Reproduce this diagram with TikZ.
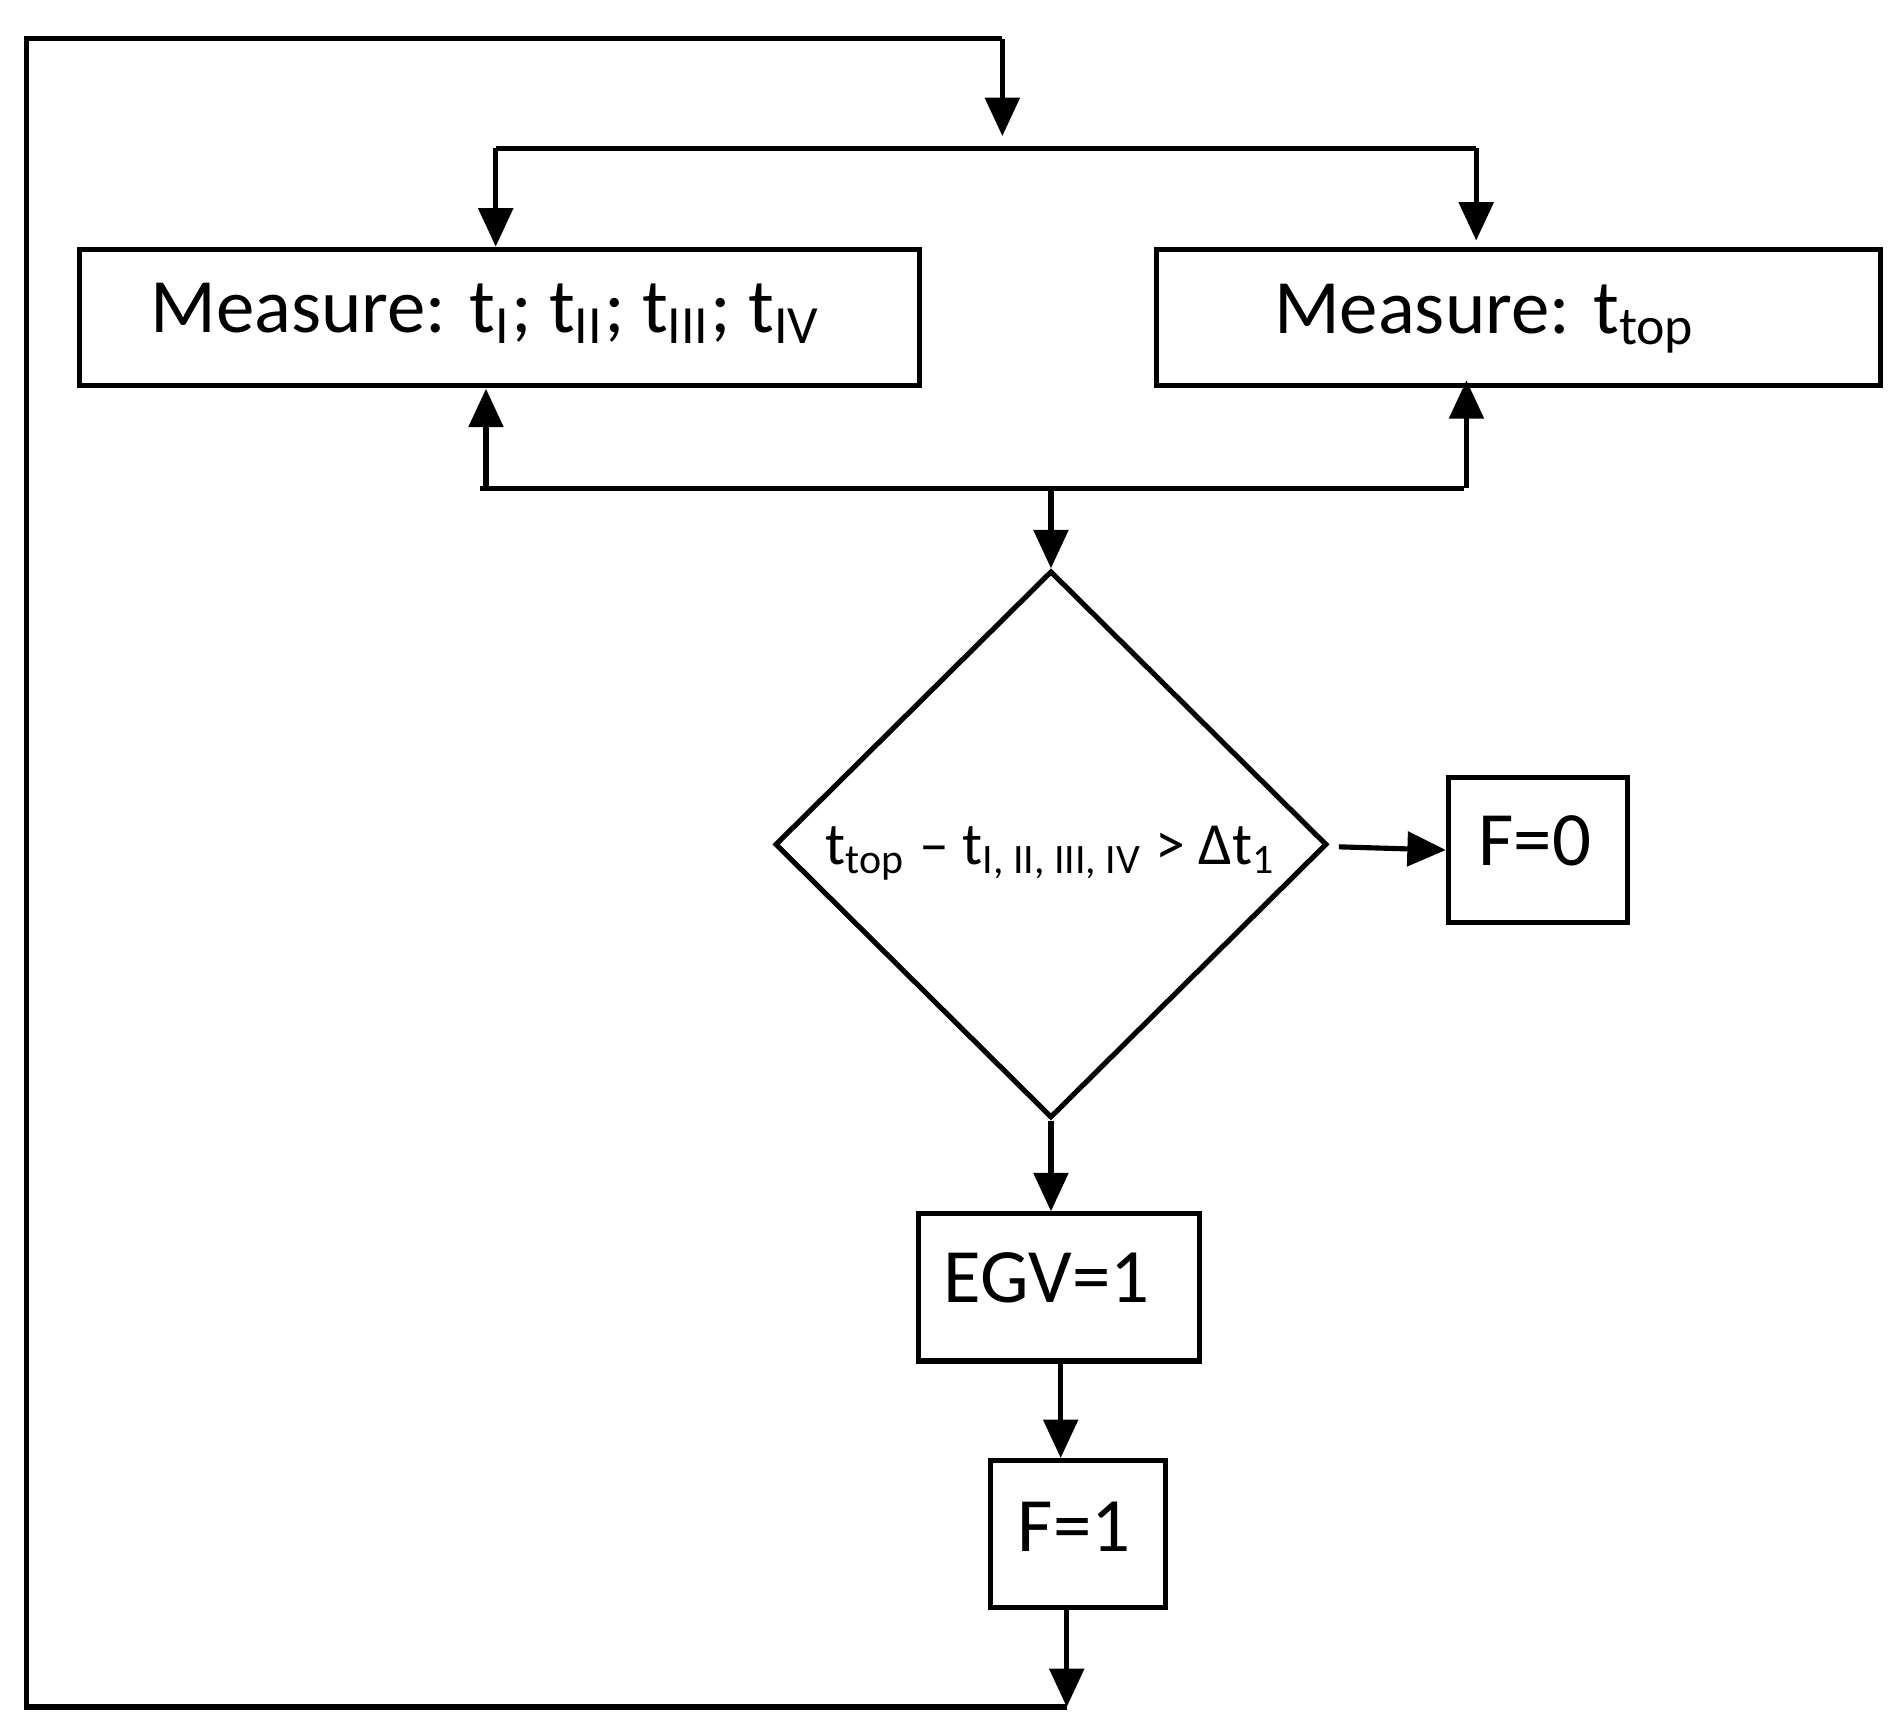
\documentclass[tikz,border=0pt]{standalone}
\usepackage{fontspec}
\setmainfont{Carlito}
\usetikzlibrary{shapes.geometric,arrows.meta,calc}
\begin{document}
\begin{tikzpicture}[x=0.01cm,y=-0.01cm,line width=1.2pt,
  box/.style={draw,rectangle,inner sep=0pt},
  arr/.style={-{Triangle[length=9pt,width=8pt]}},
  big/.style={font=\fontsize{18}{22}\selectfont},
  mid/.style={font=\fontsize{14}{17}\selectfont}]
\useasboundingbox (0,0) rectangle (1563,1427);
\node[box,anchor=north west,minimum width=6.91cm,minimum height=1.12cm] (m1) at (63,203) {};
\node[big,anchor=west] at (110,258) {Measure: t\textsubscript{I}; t\textsubscript{II}; t\textsubscript{III}; t\textsubscript{IV}};
\node[box,anchor=north west,minimum width=5.95cm,minimum height=1.12cm] (m2) at (950,203) {};
\node[big] at (1222,262) {Measure: t\textsubscript{top}};
\node[draw,diamond,aspect=1,minimum width=4.54cm,minimum height=4.50cm,inner sep=0pt] (d) at (865,695) {};
\node[mid] at (865,702) {t\textsubscript{top} – t\textsubscript{I, II, III, IV} > Δt\textsubscript{1}};
\node[box,anchor=north west,minimum width=1.47cm,minimum height=1.19cm] (f0) at (1190,638) {};
\node[big,anchor=west] at (1203,692) {F=0};
\node[box,anchor=north west,minimum width=2.31cm,minimum height=1.21cm] (egv) at (754,997) {};
\node[big,anchor=west] at (763,1052) {EGV=1};
\node[box,anchor=north west,minimum width=1.44cm,minimum height=1.21cm] (f1) at (813,1200) {};
\node[big,anchor=west] at (824,1257) {F=1};
\coordinate (a) at (825,32); \coordinate (b) at (825,112);
\coordinate (c) at (22,32); \coordinate (e) at (22,1405); \coordinate (g) at (878,1405);
\draw (g) -- (e) -- (c) -- (a); \draw[arr] (a) -- (b);
\coordinate (h1) at (408,122); \coordinate (h2) at (1215,122);
\draw (h1) -- (h2);
\draw[arr] (h1) -- (408,203);
\draw[arr] (h2) -- (1215,198);
\coordinate (l1) at (395,402); \coordinate (l2) at (1205,402);
\draw (l1) -- (l2);
\draw[arr] (400,402) -- (400,320);
\draw[arr] (1207,402) -- (1207,313);
\coordinate (dn) at (865,402);
\draw[arr] (dn) -- (d.north);
\draw[arr] (1102,697) -- (f0.west);
\draw[arr] (d.south) -- (865,997);
\draw[arr] (873,1120) -- (873,1200);
\draw[arr] (878,1321) -- (g);
\end{tikzpicture}
\end{document}
